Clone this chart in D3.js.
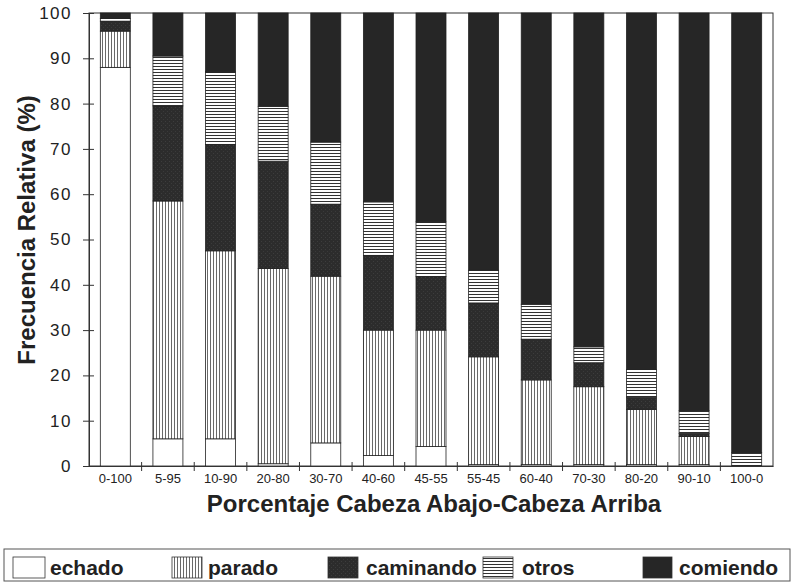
<!DOCTYPE html>
<html>
<head>
<meta charset="utf-8">
<script src="https://cdn.jsdelivr.net/npm/d3@7"></script>
<style>
  body { margin: 0; background: #fff; }
  svg { display: block; font-family: "Liberation Sans", Arial, sans-serif; }
</style>
</head>
<body>
<svg id="chart"></svg>
<script>
const categories = ["0-100", "5-95", "10-90", "20-80", "30-70", "40-60", "45-55",
  "55-45", "60-40", "70-30", "80-20", "90-10", "100-0"];

const echado    = [88, 6, 6, 0.5, 5.1, 2.3, 4.3, 0.3, 0.3, 0.3, 0.3, 0.3, 0];
const parado    = [8, 52.5, 41.5, 43.1, 36.8, 27.7, 25.7, 23.8, 18.7, 17.2, 12.2, 6.2, 0];
const caminando = [2.2, 21, 23.5, 23.7, 15.9, 16.5, 11.8, 11.9, 9, 5.3, 2.7, 0.7, 0];
const otros     = [0.6, 11, 16, 12.1, 13.7, 11.8, 12.1, 7.2, 7.7, 3.5, 6.1, 5, 3];
const comiendo  = [1.2, 9.5, 13, 20.6, 28.5, 41.7, 46.1, 56.8, 64.3, 73.7, 78.7, 87.8, 97];

const seriesNames = ["echado", "parado", "caminando", "otros", "comiendo"];
const yTicks = [0, 10, 20, 30, 40, 50, 60, 70, 80, 90, 100];

const width = 793, height = 583;
const margin = { top: 13, right: 20, bottom: 117, left: 89 };

const rows = categories.map((c, i) => ({
  cat: c,
  echado: echado[i],
  parado: parado[i],
  caminando: caminando[i],
  otros: otros[i],
  comiendo: comiendo[i]
}));

const stacked = d3.stack().keys(seriesNames)(rows);

const x = d3.scaleBand()
  .domain(categories)
  .range([margin.left, width - margin.right])
  .padding(0);

const y = d3.scaleLinear()
  .domain([0, 100])
  .range([height - margin.bottom, margin.top]);

const barW = x.bandwidth() * 0.57;

const svg = d3.select("#chart")
  .attr("width", width)
  .attr("height", height)
  .attr("viewBox", [0, 0, width, height]);

// patterns for the scanned-print look
const defs = svg.append("defs");

const vstripe = defs.append("pattern")
  .attr("id", "p-parado")
  .attr("patternUnits", "userSpaceOnUse")
  .attr("width", 3).attr("height", 10);
vstripe.append("rect").attr("width", 3).attr("height", 10).attr("fill", "#fff");
vstripe.append("line")
  .attr("x1", 0.5).attr("x2", 0.5).attr("y1", 0).attr("y2", 10)
  .attr("stroke", "#444").attr("stroke-width", 0.8);

const hstripe = defs.append("pattern")
  .attr("id", "p-otros")
  .attr("patternUnits", "userSpaceOnUse")
  .attr("width", 10).attr("height", 3);
hstripe.append("rect").attr("width", 10).attr("height", 3).attr("fill", "#fff");
hstripe.append("line")
  .attr("x1", 0).attr("x2", 10).attr("y1", 0.5).attr("y2", 0.5)
  .attr("stroke", "#333").attr("stroke-width", 1);

const dots = defs.append("pattern")
  .attr("id", "p-caminando")
  .attr("patternUnits", "userSpaceOnUse")
  .attr("width", 4).attr("height", 4);
dots.append("rect").attr("width", 4).attr("height", 4).attr("fill", "#2c2c2c");
dots.append("rect").attr("x", 1).attr("y", 1).attr("width", 1).attr("height", 1).attr("fill", "#3d3d3d");
dots.append("rect").attr("x", 3).attr("y", 3).attr("width", 1).attr("height", 1).attr("fill", "#3a3a3a");

const fills = {
  echado: "#fff",
  parado: "url(#p-parado)",
  caminando: "url(#p-caminando)",
  otros: "url(#p-otros)",
  comiendo: "#262626"
};

// frame of the plot area
svg.append("rect")
  .attr("x", margin.left)
  .attr("y", margin.top)
  .attr("width", width - margin.left - margin.right)
  .attr("height", height - margin.top - margin.bottom)
  .attr("fill", "none")
  .attr("stroke", "#333")
  .attr("stroke-width", 1);

// bars
svg.append("g")
  .selectAll("g")
  .data(stacked)
  .join("g")
  .attr("fill", d => fills[d.key])
  .selectAll("rect")
  .data(d => d)
  .join("rect")
  .attr("x", d => x(d.data.cat) + (x.bandwidth() - barW) / 2)
  .attr("y", d => y(d[1]))
  .attr("width", barW)
  .attr("height", d => y(d[0]) - y(d[1]))
  .attr("stroke", "#222")
  .attr("stroke-width", 0.8);

// y axis
const yAxis = g => g
  .attr("transform", `translate(${margin.left},0)`)
  .call(d3.axisLeft(y).tickValues(yTicks).tickSize(6).tickPadding(11))
  .call(g => g.select(".domain").attr("stroke", "#333"))
  .call(g => g.selectAll(".tick line").attr("stroke", "#333"))
  .call(g => g.selectAll(".tick text")
    .attr("font-size", 17)
    .attr("letter-spacing", 1.5)
    .attr("fill", "#222")
    .attr("font-family", "'Liberation Sans', Arial, sans-serif"));

svg.append("g").call(yAxis);

// inner half of the crossing ticks
svg.append("g")
  .attr("transform", `translate(${margin.left},0)`)
  .call(d3.axisLeft(y).tickValues(yTicks).tickSize(-5).tickFormat(""))
  .call(g => g.select(".domain").remove())
  .call(g => g.selectAll(".tick line").attr("stroke", "#333"));

// x axis: labels under bars, ticks at band edges
const xAxis = g => g
  .attr("transform", `translate(0,${height - margin.bottom})`)
  .call(d3.axisBottom(x).tickSize(0).tickPadding(8))
  .call(g => g.select(".domain").attr("stroke", "#333"))
  .call(g => g.selectAll(".tick text")
    .attr("font-size", 13)
    .attr("fill", "#222")
    .attr("font-family", "'Liberation Sans', Arial, sans-serif"));

svg.append("g").call(xAxis);

svg.append("g")
  .attr("stroke", "#333")
  .selectAll("line")
  .data(categories.slice(1))
  .join("line")
  .attr("x1", d => x(d)).attr("x2", d => x(d))
  .attr("y1", height - margin.bottom - 4)
  .attr("y2", height - margin.bottom + 5);

// axis titles
svg.append("text")
  .attr("x", 434)
  .attr("y", 512)
  .attr("text-anchor", "middle")
  .attr("font-size", 24)
  .attr("font-weight", "bold")
  .attr("fill", "#222")
  .text("Porcentaje Cabeza Abajo-Cabeza Arriba");

svg.append("text")
  .attr("transform", "translate(35,230) rotate(-90)")
  .attr("text-anchor", "middle")
  .attr("font-size", 24)
  .attr("font-weight", "bold")
  .attr("fill", "#222")
  .text("Frecuencia Relativa (%)");

// legend
const legendItems = [
  { key: "echado", sx: 13, sw: 32, tx: 50 },
  { key: "parado", sx: 172, sw: 30, tx: 208 },
  { key: "caminando", sx: 328, sw: 30, tx: 366 },
  { key: "otros", sx: 483, sw: 30, tx: 522 },
  { key: "comiendo", sx: 643, sw: 29, tx: 679 }
];

svg.append("rect")
  .attr("x", 4).attr("y", 549)
  .attr("width", 786).attr("height", 32)
  .attr("fill", "none")
  .attr("stroke", "#555")
  .attr("stroke-width", 1);

const legend = svg.append("g")
  .selectAll("g")
  .data(legendItems)
  .join("g");

legend.append("rect")
  .attr("x", d => d.sx)
  .attr("y", 557)
  .attr("width", d => d.sw)
  .attr("height", 21)
  .attr("fill", d => fills[d.key])
  .attr("stroke", "#333")
  .attr("stroke-width", 0.8);

legend.append("text")
  .attr("x", d => d.tx)
  .attr("y", 575)
  .attr("font-size", 21)
  .attr("font-weight", "bold")
  .attr("fill", "#222")
  .text(d => d.key);
</script>
</body>
</html>
